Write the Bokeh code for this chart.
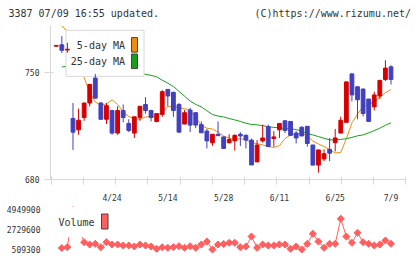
import numpy as np
from bokeh.plotting import figure
from bokeh.models import Range1d, FixedTicker
from bokeh.layouts import column, row
from bokeh.embed import file_html
from bokeh.resources import INLINE
from bokeh.core.properties import value

# ---------------- data ----------------
opens = [767.0, 767.9, 764.5, 719.8, 712.4, 720.4, 729.9, 746.2, 729.9, 719.3,
         725.0, 710.3, 725.0, 716.6, 710.3, 720.4, 728.9, 725.0, 717.9, 722.5,
         738.8, 736.9, 728.9, 716.2, 725.3, 723.6, 715.8, 711.6, 704.0, 709.5,
         707.8, 704.0, 705.2, 709.5, 708.8, 705.7, 691.5, 705.2, 714.5, 706.7,
         712.4, 718.3, 717.9, 710.3, 714.1, 714.7, 702.5, 689.4, 693.4, 699.7,
         704.0, 710.3, 717.3, 748.9, 740.5, 739.0, 732.5, 727.4, 734.5, 745.3,
         753.5]
highs = [767.6, 773.5, 769.2, 729.9, 726.3, 730.2, 742.5, 748.9, 730.6, 729.9,
         725.5, 727.8, 728.9, 719.3, 721.0, 728.0, 733.7, 725.5, 723.2, 738.3,
         739.0, 737.2, 729.9, 725.3, 726.8, 723.8, 717.9, 713.0, 709.6, 717.9,
         708.0, 709.5, 709.5, 710.9, 709.5, 706.7, 705.7, 715.8, 715.8, 711.6,
         716.7, 718.4, 718.0, 711.6, 714.7, 714.8, 702.6, 699.4, 699.7, 707.1,
         713.0, 721.1, 743.8, 749.6, 740.6, 739.4, 732.6, 737.3, 744.8, 757.8,
         754.6]
lows = [766.9, 762.5, 762.8, 699.3, 709.2, 718.3, 727.7, 732.8, 719.0, 716.2,
        709.2, 709.2, 717.3, 710.9, 707.1, 718.3, 723.0, 717.9, 717.3, 720.9,
        727.8, 720.9, 710.7, 716.0, 710.9, 713.5, 710.3, 700.3, 702.0, 708.4,
        700.0, 703.5, 698.9, 701.9, 700.3, 689.4, 691.4, 704.1, 701.4, 701.4,
        707.1, 710.3, 708.7, 703.5, 708.3, 701.4, 689.3, 684.5, 691.9, 691.9,
        698.3, 710.2, 717.2, 731.0, 719.3, 721.1, 717.8, 725.0, 732.5, 744.3,
        742.0]
closes = [767.5, 764.3, 765.0, 710.9, 718.7, 729.9, 742.0, 733.1, 719.3, 728.2,
          710.3, 725.0, 720.4, 712.0, 720.9, 727.8, 725.0, 720.4, 723.0, 737.3,
          734.5, 725.0, 710.9, 723.6, 715.5, 715.5, 710.5, 705.2, 709.5, 708.6,
          700.3, 706.1, 708.8, 708.4, 705.7, 689.5, 702.5, 707.1, 701.5, 707.8,
          716.6, 712.0, 708.8, 707.1, 708.4, 703.5, 689.4, 699.3, 696.8, 697.2,
          707.1, 718.7, 743.7, 735.2, 732.0, 723.1, 717.9, 735.2, 744.7, 752.7,
          745.3]
ma5 = [np.nan, 780.2, 776.7, 766.6, 756.5, 746.4, 736.9, 730.6, 728.5, 729.3,
       732.0, 729.0, 724.3, 721.1, 719.8, 719.2, 720.8, 721.1, 721.5, 724.3,
       727.4, 727.9, 726.8, 726.2, 725.5, 720.5, 715.4, 713.5, 712.9, 711.0,
       708.4, 706.9, 706.2, 706.6, 705.9, 704.0, 703.4, 702.6, 701.5, 700.9,
       702.1, 706.7, 709.1, 709.7, 710.4, 708.6, 705.0, 703.2, 701.5, 699.5,
       697.3, 697.7, 706.6, 717.0, 722.7, 727.7, 728.9, 730.6, 733.7, 736.6,
       738.8]
ma25 = [np.nan, 753.4, 754.0, 754.2, 754.6, 754.6, 754.2, 754.0, 753.7, 753.4,
        752.7, 752.1, 751.5, 750.8, 750.2, 749.6, 748.6, 748.0, 747.0, 744.8,
        742.9, 740.7, 737.5, 734.4, 731.2, 729.0, 727.4, 724.9, 722.4, 721.4,
        720.8, 719.8, 718.9, 717.9, 716.7, 715.9, 715.7, 715.1, 714.5, 714.0,
        713.8, 713.2, 713.1, 712.6, 711.6, 710.0, 709.1, 708.0, 706.9, 705.9,
        705.7, 706.2, 706.6, 707.5, 708.5, 709.1, 710.4, 711.9, 713.5, 715.4,
        717.0]
volume = [np.nan, 677000, 767000, 4949900, 3000000, 1326000, 1069000, 1147000, 767000, 1326000,
          1069000, 1069000, 957000, 957000, 845000, 1069000, 957000, 845000, 588000, 767000,
          700000, 767000, 878000, 700000, 878000, 700000, 1069000, 1404000, 509300, 1069000,
          1125000, 1259000, 1259000, 767000, 845000, 1963000, 700000, 1069000, 957000, 957000,
          1069000, 1069000, 588000, 845000, 509300, 1147000, 2265000, 1404000, 700000, 1147000,
          1147000, 3943000, 1963000, 1259000, 2377000, 1326000, 1147000, 957000, 1069000, 1516000,
          1147000]
date_ticks = [10, 20, 30, 40, 50, 60]
date_labels = ["4/24", "5/14", "5/28", "6/11", "6/25", "7/9"]
price_ticks = [680, 750]
vol_ticks = [509300, 2729600, 4949900]
header_left = "3387 07/09 16:55 updated."
header_right = "(C)https://www.rizumu.net/"

idx = list(range(len(opens)))

# ---------------- layout constants ----------------
FONT = "DejaVu Sans Mono"
RED, BLUE = "#d60000", "#4040c0"
ORANGE, GREEN, VOLC = "#f08c10", "#18a018", "#ff5f5f"
AXC = "#d8d8d8"
TXT = "#333333"

HH = 25            # header height
PH = 180           # price panel height (window y 25..205)
FL, FR = 50, 406   # frame left/right (px)
FT, FB = 25, 184   # frame top/bottom (window px)
XL, XR = -1.03, 62.78
YB, YT = 680.0, 780.5
SX = (XR - XL) / (FR - FL)
SY = (YT - YB) / (FB - FT)


def px2x(px):
    return XL + (px - FL) * SX


def py2y(py):
    return YB + (FB - py) * SY


def common(fig):
    fig.outline_line_color = None
    fig.xgrid.visible = False
    fig.ygrid.visible = False
    fig.background_fill_color = "white"
    fig.border_fill_color = "white"


# ---------------- header ----------------
h = figure(width=420, height=HH, x_range=Range1d(0, 420), y_range=Range1d(HH, 0),
           output_backend="svg", toolbar_location=None,
           x_axis_location=None, y_axis_location=None,
           min_border_left=0, min_border_right=0, min_border_top=0, min_border_bottom=0)
common(h)
h.text(x=[8], y=[12.7], text=[header_left], text_align="left", text_baseline="middle",
       text_font=value(FONT), text_font_size=value("10px"), text_color=TXT)
h.text(x=[410.5], y=[12.7], text=[header_right], text_align="right", text_baseline="middle",
       text_font=value(FONT), text_font_size=value("10px"), text_color=TXT)

# ---------------- price figure ----------------
p = figure(width=420, height=PH, x_range=Range1d(XL, XR), y_range=Range1d(YB, YT),
           output_backend="svg", toolbar_location=None,
           min_border_left=FL, min_border_right=420 - FR,
           min_border_top=0, min_border_bottom=HH + PH - FB)
common(p)

# moving averages (under the legend)
p.line(idx, ma5, color=ORANGE, line_width=1)
p.line(idx, ma25, color=GREEN, line_width=1)

# legend box
p.quad(left=[px2x(65.5)], right=[px2x(143.5)], top=[py2y(30)], bottom=[py2y(77.5)],
       fill_color="white", line_color=AXC, line_width=1)
p.text(x=[px2x(124.5), px2x(124.5)], y=[py2y(45.5), py2y(61.8)], text=["5-day MA", "25-day MA"],
       text_align="right", text_baseline="middle", text_font=value(FONT),
       text_font_size=value("10px"), text_color=TXT)
p.quad(left=[px2x(131), px2x(131)], right=[px2x(137), px2x(137)],
       top=[py2y(37.5), py2y(54.5)], bottom=[py2y(52.5), py2y(69.5)],
       fill_color=[ORANGE, GREEN], line_color="#444444", line_width=1)

# candles
colors = [RED if c >= o else BLUE for o, c in zip(opens, closes)]
tops = [max(o, c) for o, c in zip(opens, closes)]
bots = [min(o, c) for o, c in zip(opens, closes)]
p.segment(x0=idx, y0=lows, x1=idx, y1=highs, color=colors, line_width=1)
p.vbar(x=idx, width=0.68, top=tops, bottom=bots, fill_color=colors, line_color=colors, line_width=1)

# axes
minor = [px2x(50.5 + 32.27 * k) for k in range(12)]
p.xaxis.ticker = FixedTicker(ticks=date_ticks, minor_ticks=minor)
p.xaxis.major_label_overrides = {t: l for t, l in zip(date_ticks, date_labels)}
p.xaxis.major_tick_in = 0
p.xaxis.major_tick_out = 0
p.xaxis.minor_tick_in = 3
p.xaxis.minor_tick_out = 5
p.xaxis.minor_tick_line_color = AXC
p.xaxis.axis_line_color = AXC
p.xaxis.major_label_standoff = 9
p.xaxis.major_label_text_font = FONT
p.xaxis.major_label_text_font_size = "8px"
p.xaxis.major_label_text_color = TXT

p.yaxis.ticker = FixedTicker(ticks=price_ticks)
p.yaxis.major_tick_in = 3
p.yaxis.major_tick_out = 6
p.yaxis.major_tick_line_color = AXC
p.yaxis.minor_tick_line_color = None
p.yaxis.axis_line_color = AXC
p.yaxis.major_label_standoff = 5
p.yaxis.major_label_text_font = FONT
p.yaxis.major_label_text_font_size = "8px"
p.yaxis.major_label_text_color = TXT

# ---------------- volume figure ----------------
VH = 54
VK = (4949900 - 509300) / (249 - 209.3)
VT = 4949900 + (209.3 - 205) * VK
VB = VT - VH * VK


def vy(py_window):
    return VT - (py_window - 205) * VK


q = figure(width=420, height=VH, x_range=p.x_range, y_range=Range1d(VB, VT),
           output_backend="svg", toolbar_location=None, x_axis_location=None,
           min_border_left=FL, min_border_right=420 - FR,
           min_border_top=0, min_border_bottom=0)
common(q)

q.line(idx, volume, color=VOLC, line_width=1)
q.scatter(idx, volume, marker="square", angle=0.785, size=5, color=VOLC)

q.quad(left=[px2x(52)], right=[px2x(112)], top=[vy(206)], bottom=[vy(236.5)],
       fill_color="white", line_color=None)
q.text(x=[px2x(58)], y=[vy(222.3)], text=["Volume"], text_align="left",
       text_baseline="middle", text_font=value(FONT), text_font_size=value("10px"),
       text_color=TXT)
q.quad(left=[px2x(101)], right=[px2x(107.5)], top=[vy(213.5)], bottom=[vy(228.5)],
       fill_color=VOLC, line_color="#444444", line_width=1)

q.yaxis.ticker = FixedTicker(ticks=vol_ticks)
q.yaxis.major_label_overrides = {t: str(t) for t in vol_ticks}
q.yaxis.axis_line_color = None
q.yaxis.major_tick_line_color = None
q.yaxis.minor_tick_line_color = None
q.yaxis.major_label_standoff = 4
q.yaxis.major_label_text_font = FONT
q.yaxis.major_label_text_font_size = "8px"
q.yaxis.major_label_text_color = TXT

layout = column(row(h), p, q)
open("out.html", "w").write(file_html(layout, INLINE))
